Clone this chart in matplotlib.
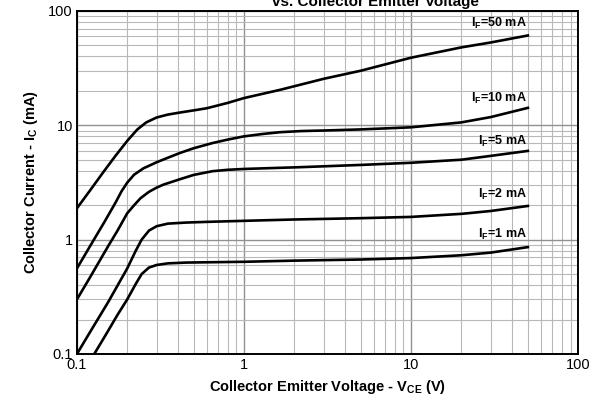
import numpy as np
import matplotlib
matplotlib.use("Agg")
import matplotlib.pyplot as plt

plt.rcParams['font.family'] = ['Liberation Sans', 'DejaVu Sans']
plt.rcParams['mathtext.fontset'] = 'custom'
plt.rcParams['mathtext.rm'] = 'Liberation Sans:bold'
plt.rcParams['mathtext.it'] = 'Liberation Sans:bold'
plt.rcParams['mathtext.bf'] = 'Liberation Sans:bold'

# curve data (V_CE in V, I_C in mA)
x50 = [0.1, 0.12, 0.144, 0.17, 0.2, 0.23, 0.26, 0.3, 0.35, 0.41, 0.5, 0.6, 0.8, 1, 1.64, 3, 5, 10, 20, 30, 50]
y50 = [1.88, 2.7, 3.9, 5.4, 7.3, 9.2, 10.6, 11.7, 12.4, 12.9, 13.5, 14.1, 15.7, 17.3, 20.4, 25.5, 30, 39, 48, 53, 61]

x10 = [0.1, 0.12, 0.147, 0.17, 0.185, 0.2, 0.22, 0.25, 0.3, 0.35, 0.41, 0.5, 0.65, 0.8, 1, 1.3, 1.64, 2.2, 3, 5, 10, 20, 30, 50]
y10 = [0.56, 0.88, 1.45, 2.1, 2.65, 3.15, 3.7, 4.2, 4.75, 5.2, 5.7, 6.3, 7.0, 7.5, 8.0, 8.4, 8.7, 8.9, 9.0, 9.2, 9.6, 10.6, 11.8, 14.2]

x5 = [0.1, 0.12, 0.154, 0.175, 0.2, 0.22, 0.24, 0.27, 0.3, 0.33, 0.37, 0.42, 0.5, 0.65, 0.8, 1, 2.16, 5, 10, 20, 30, 50]
y5 = [0.30, 0.47, 0.88, 1.2, 1.7, 2.0, 2.3, 2.62, 2.85, 3.03, 3.2, 3.4, 3.68, 3.97, 4.08, 4.15, 4.3, 4.5, 4.7, 5.0, 5.4, 5.97]

x2 = [0.1, 0.12, 0.154, 0.2, 0.225, 0.244, 0.27, 0.3, 0.35, 0.45, 0.6, 1, 2, 5, 10, 20, 30, 50]
y2 = [0.1, 0.156, 0.285, 0.56, 0.8, 1.0, 1.2, 1.31, 1.38, 1.41, 1.43, 1.46, 1.5, 1.54, 1.58, 1.68, 1.78, 1.97]

x1 = [0.127, 0.15, 0.175, 0.2, 0.225, 0.244, 0.27, 0.3, 0.35, 0.45, 1, 2, 5, 10, 20, 30, 50]
y1 = [0.1, 0.15, 0.22, 0.30, 0.41, 0.5, 0.57, 0.6, 0.62, 0.63, 0.64, 0.655, 0.67, 0.69, 0.73, 0.77, 0.86]

labels = ['$\\mathregular{I_F}$=50 mA', '$\\mathregular{I_F}$=10 mA', '$\\mathregular{I_F}$=5 mA',
          '$\\mathregular{I_F}$=2 mA', '$\\mathregular{I_F}$=1 mA']
label_y = [72.6, 16.0, 6.75, 2.32, 1.03]

fig = plt.figure(figsize=(6.01, 4.05), dpi=100)
ax = fig.add_axes([0.128, 0.126, 0.834, 0.847])

for xs, ys in [(x50, y50), (x10, y10), (x5, y5), (x2, y2), (x1, y1)]:
    ax.plot(xs, ys, color='black', lw=1.9, solid_joinstyle='round')

for lab, ly in zip(labels, label_y):
    ax.text(49.5, ly, lab, ha='right', va='baseline', fontsize=9, fontweight='bold')

ax.set_xscale('log')
ax.set_yscale('log')
ax.set_xlim(0.1, 100)
ax.set_ylim(0.1, 100)
ax.set_xticks([0.1, 1, 10, 100])
ax.set_xticklabels(['0.1', '1', '10', '100'])
ax.set_yticks([0.1, 1, 10, 100])
ax.set_yticklabels(['0.1', '1', '10', '100'])
ax.tick_params(which='both', length=0, labelsize=10.5, pad=3)
ax.grid(which='major', color='#909090', lw=1.0)
ax.grid(which='minor', color='#b8b8b8', lw=0.8)
for s in ax.spines.values():
    s.set_linewidth(1.4)
    s.set_color('black')

ax.set_xlabel('Collector Emitter Voltage - $\\mathregular{V_{CE}}$ (V)', fontsize=10.5,
              fontweight='bold', labelpad=4)
ax.set_ylabel('Collector Current - $\\mathregular{I_C}$ (mA)', fontsize=10.5,
              fontweight='bold', labelpad=6)

# title is cut off at the top edge in the original
fig.text(375 / 601, 1 - 6 / 405, 'vs. Collector Emitter Voltage', ha='center', va='baseline',
         fontsize=11, fontweight='bold')

fig.savefig('out.png', dpi=100)
